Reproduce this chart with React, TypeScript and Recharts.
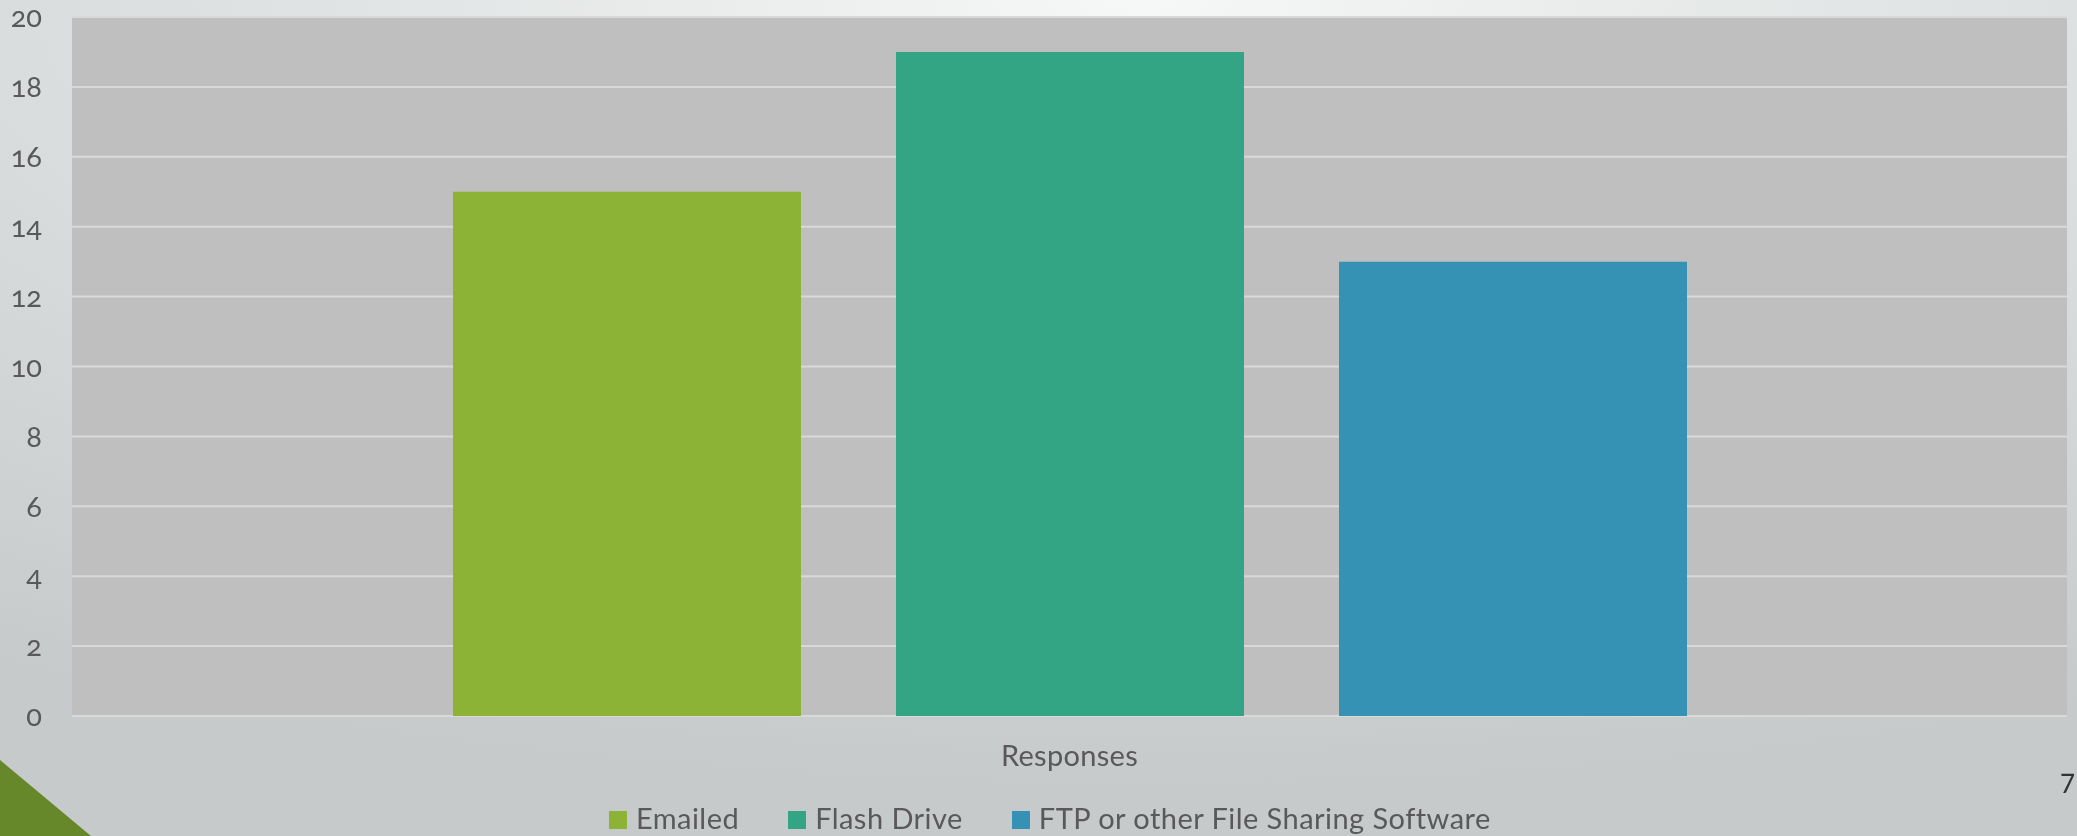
import { Bar, BarChart, CartesianGrid, XAxis, YAxis } from 'recharts';

const categories = ['Responses'];
const seriesNames = ['Emailed', 'Flash Drive', 'FTP or other File Sharing Software'];
const emailed = [15];
const flashDrive = [19];
const ftpSharing = [13];
const yTicks = [0, 2, 4, 6, 8, 10, 12, 14, 16, 18, 20];

const seriesKeys = ['emailed', 'flashDrive', 'ftpSharing'];
const COLORS = ['#8cb335', '#33a584', '#3592b4'];
const FONT = 'Lato, sans-serif';
const TEXT = '#595959';
const OLDSTYLE = { fontVariantNumeric: 'oldstyle-nums', fontFeatureSettings: '"onum"' };

const data = categories.map((name, i) => ({
  name,
  emailed: emailed[i],
  flashDrive: flashDrive[i],
  ftpSharing: ftpSharing[i],
}));

function ChartLegend() {
  return (
    <div
      style={{
        position: 'absolute',
        left: 609,
        top: 803,
        display: 'flex',
        alignItems: 'flex-start',
        fontFamily: FONT,
        fontSize: 29,
        lineHeight: '29px',
        letterSpacing: 0.45,
        color: TEXT,
        whiteSpace: 'nowrap',
      }}
    >
      {seriesNames.map((name, i) => (
        <div
          key={name}
          style={{ display: 'flex', alignItems: 'flex-start', marginRight: 49 }}
        >
          <span
            style={{
              width: 18,
              height: 18,
              marginTop: 8,
              marginRight: 9,
              background: COLORS[i],
            }}
          />
          <span>{name}</span>
        </div>
      ))}
    </div>
  );
}

export default function App() {
  return (
    <div
      style={{
        position: 'fixed',
        left: 0,
        top: 0,
        width: 2077,
        height: 836,
        overflow: 'hidden',
        background:
          'radial-gradient(120% 110% at 55% 0%, #f6f7f7 0%, #dfe2e2 35%, #c6cacb 85%)',
      }}
    >
      <BarChart
        width={2077}
        height={836}
        data={data}
        margin={{ top: 17, right: 10, left: 0, bottom: 0 }}
        barCategoryGap={381}
        barGap={95}
      >
        <CartesianGrid
          vertical={false}
          stroke="#d9d9d9"
          strokeWidth={2}
          fill="#bfbfbf"
          fillOpacity={1}
        />
        <XAxis
          dataKey="name"
          height={120}
          axisLine={false}
          tickLine={false}
          tickSize={0}
          tickMargin={29}
          tick={{ fill: TEXT, fontSize: 29, fontFamily: FONT, letterSpacing: 0.3 }}
        />
        <YAxis
          width={72}
          domain={[0, 20]}
          ticks={yTicks}
          interval={0}
          axisLine={false}
          tickLine={false}
          tickSize={0}
          tickMargin={30}
          tick={{ fill: TEXT, fontSize: 29, fontFamily: FONT, style: OLDSTYLE }}
        />
        {seriesKeys.map((key, i) => (
          <Bar
            key={key}
            dataKey={key}
            name={seriesNames[i]}
            fill={COLORS[i]}
            isAnimationActive={false}
          />
        ))}
      </BarChart>
      <ChartLegend />
      <div
        style={{
          position: 'absolute',
          left: 0,
          top: 0,
          width: 2077,
          height: 836,
          pointerEvents: 'none',
          background: '#67882a',
          clipPath: 'polygon(0 760px, 91px 836px, 0 836px)',
        }}
      />
      <div
        style={{
          position: 'absolute',
          left: 2060,
          top: 762,
          fontFamily: FONT,
          fontSize: 28,
          color: '#333',
          ...OLDSTYLE,
        }}
      >
        7
      </div>
    </div>
  );
}
